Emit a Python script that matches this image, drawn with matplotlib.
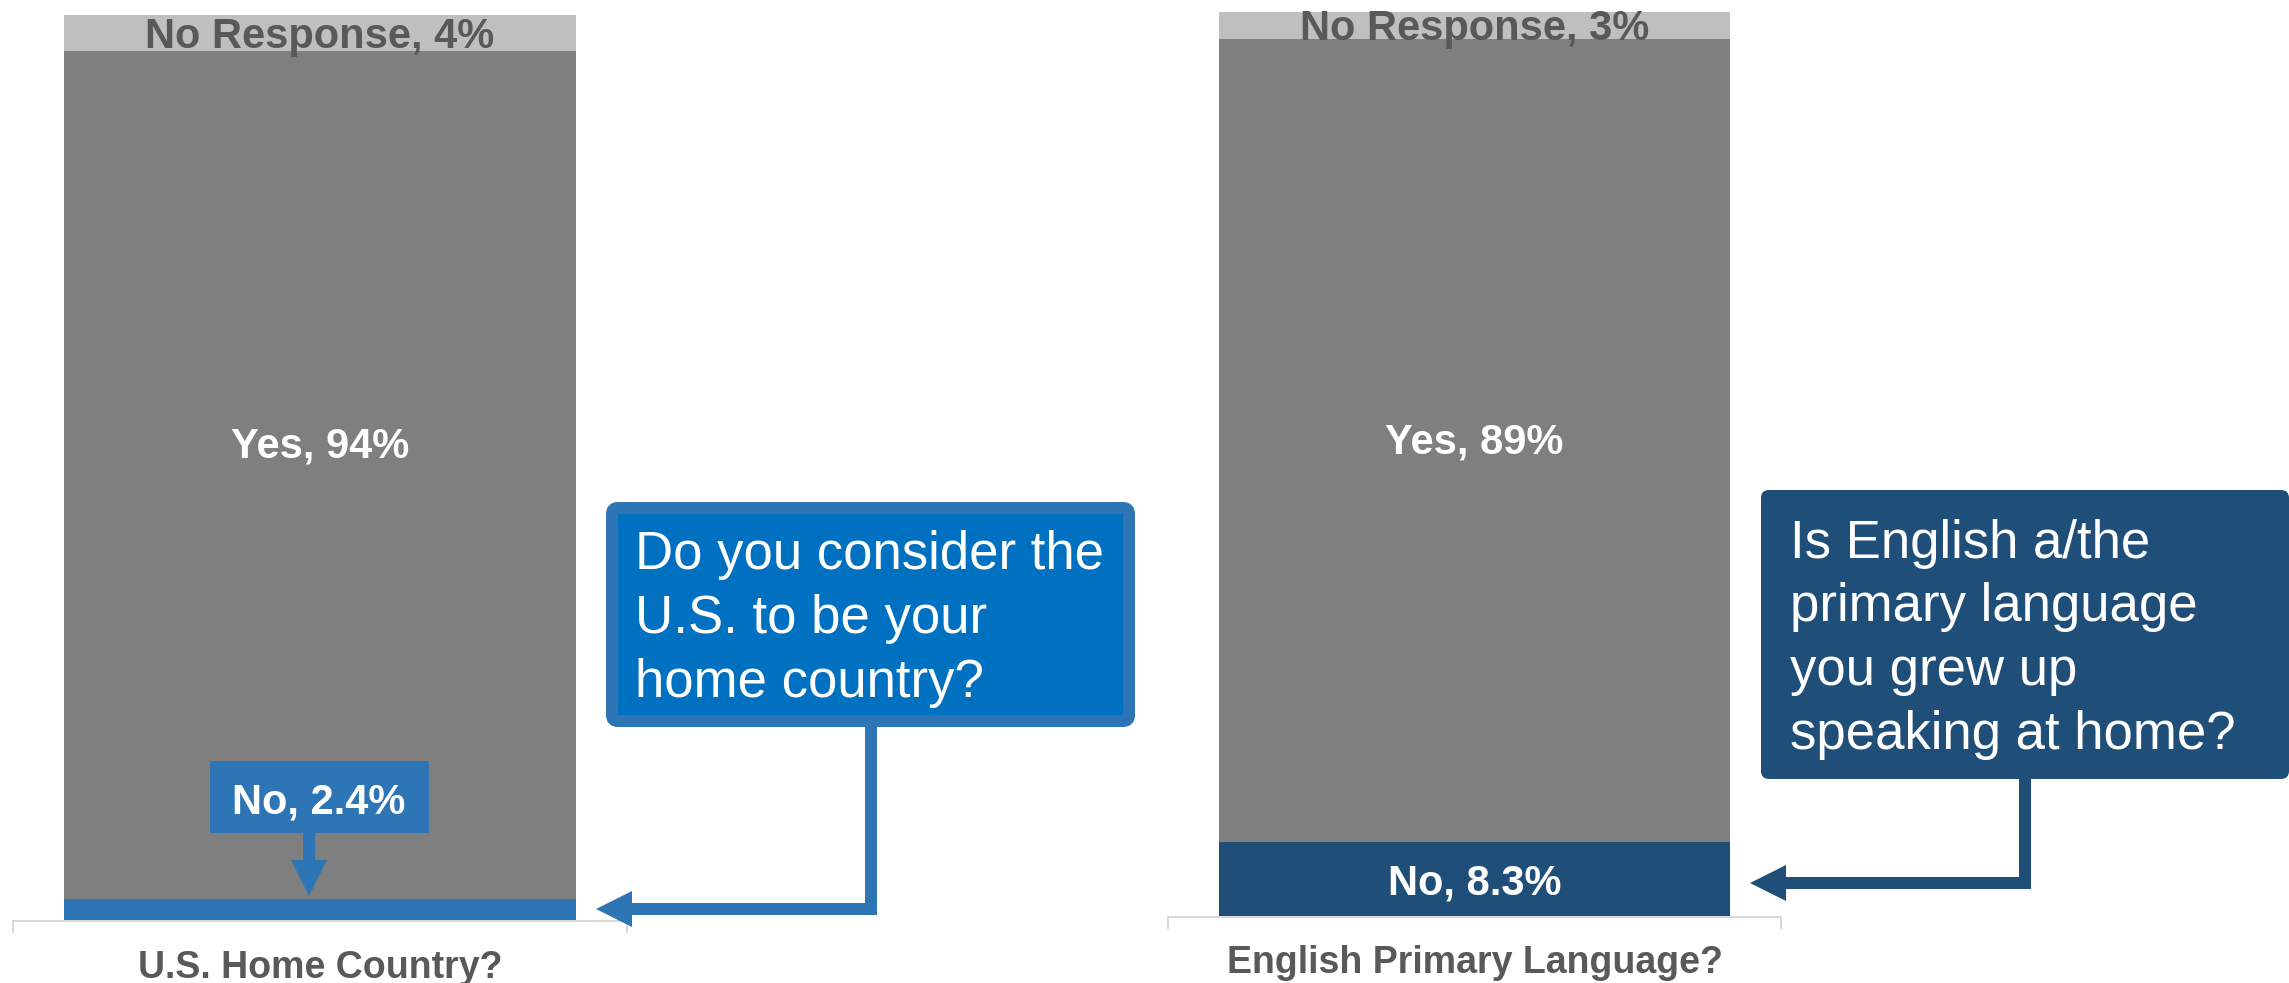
import matplotlib
matplotlib.use("Agg")
import matplotlib.pyplot as plt
from matplotlib.patches import FancyBboxPatch, Polygon, Rectangle

# ---- survey results (percent of respondents) ----
categories = ["U.S. Home Country?", "English Primary Language?"]
no_vals = [2.4, 8.3]
yes_vals = [94, 89]
no_response_vals = [4, 3]
questions = [
    ["Do you consider the", "U.S. to be your", "home country?"],
    ["Is English a/the", "primary language", "you grew up", "speaking at home?"],
]

# ---- styling ----
W, H, DPI = 2289, 983, 100
PT = 72 / DPI                      # points per pixel
GRAY = "#7F7F7F"
LIGHT = "#BFBFBF"
TEXT_GRAY = "#595959"
AXIS_GRAY = "#D9D9D9"
BLUE = "#2E75B6"
BRIGHT_BLUE = "#0070C0"
NAVY = "#1F4E79"
no_colors = [BLUE, NAVY]

plt.rcParams["font.family"] = ["Liberation Sans", "DejaVu Sans"]

fig = plt.figure(figsize=(W / DPI, H / DPI), dpi=DPI)


def rect(x0, y0, x1, y1):
    """Pixel box (top-left origin) -> figure-fraction rectangle."""
    return [x0 / W, 1 - y1 / H, (x1 - x0) / W, (y1 - y0) / H]


def fmt(v):
    return f"{v:g}%"


LABEL_SIZE = 30
CAP = 0.716 * LABEL_SIZE           # cap height in points


def bar_label(ax, y, text, color):
    # centre the capital letters on y
    ax.annotate(text, xy=(0, y), xytext=(0, -CAP / 2), textcoords="offset points",
                ha="center", va="baseline", fontsize=LABEL_SIZE,
                fontweight="bold", color=color, zorder=5)


axes_boxes = [rect(13, 0, 627, 921), rect(1168, 0, 1781, 917)]
y_tops = [102.06, 101.63]
cat_offsets = [57, 56]
YES_LABEL_Y = 53.0

for i, cat in enumerate(categories):
    ax = fig.add_axes(axes_boxes[i])
    no, yes, nr = no_vals[i], yes_vals[i], no_response_vals[i]
    ax.bar(0, no, width=1.0, color=no_colors[i], zorder=1)
    ax.bar(0, yes, width=1.0, bottom=no, color=GRAY, zorder=1)
    ax.bar(0, nr, width=1.0, bottom=no + yes, color=LIGHT, zorder=1)
    ax.set_xlim(-0.6, 0.6)
    ax.set_ylim(0, y_tops[i])
    for side in ("left", "right", "top"):
        ax.spines[side].set_visible(False)
    ax.spines["bottom"].set_color(AXIS_GRAY)
    ax.spines["bottom"].set_linewidth(2 * PT)
    ax.set_xticks([-0.6, 0.6])
    ax.set_xticklabels([])
    ax.tick_params(axis="x", length=12 * PT, width=2 * PT, color=AXIS_GRAY,
                   direction="out")
    ax.set_yticks([])
    ax.patch.set_alpha(0)

    bar_label(ax, YES_LABEL_Y, f"Yes, {fmt(yes)}", "white")
    bar_label(ax, no + yes + nr / 2, f"No Response, {fmt(nr)}", TEXT_GRAY)
    if i == 1:
        bar_label(ax, no / 2, f"No, {fmt(no)}", "white")

    ax.annotate(cat, xy=(0, 0), xycoords=("data", "axes fraction"),
                xytext=(0, -cat_offsets[i] * PT), textcoords="offset points",
                ha="center", va="baseline", fontsize=27, fontweight="bold",
                color=TEXT_GRAY, annotation_clip=False)

# ---- call-outs drawn in pixel space on a transparent overlay ----
ov = fig.add_axes([0, 0, 1, 1], zorder=10)
ov.set_xlim(0, W)
ov.set_ylim(H, 0)
ov.axis("off")
ov.patch.set_alpha(0)

# small label box pointing down at the thin "No" segment
ov.add_patch(Rectangle((210, 761), 219, 72, fc=BLUE, ec="none"))
ov.text(319, 813, f"No, {fmt(no_vals[0])}", ha="center", va="baseline",
        fontsize=LABEL_SIZE, fontweight="bold", color="white")
ov.add_patch(Rectangle((303, 832), 12, 29, fc=BLUE, ec="none"))
ov.add_patch(Polygon([(291, 860), (327, 860), (309, 896)], closed=True,
                     fc=BLUE, ec="none"))

# question 1 call-out
ov.add_patch(FancyBboxPatch((612, 508), 517, 213,
                            boxstyle="round,pad=0,rounding_size=6",
                            fc=BRIGHT_BLUE, ec=BLUE, lw=12 * PT))
for k, line in enumerate(questions[0]):
    ov.text(635, 569 + 64 * k, line, ha="left", va="baseline",
            fontsize=38, color="white")
ov.plot([871, 871, 632], [724, 909, 909], color=BLUE, lw=12 * PT,
        solid_joinstyle="miter", solid_capstyle="butt")
ov.add_patch(Polygon([(632, 891), (632, 927), (596, 909)], closed=True,
                     fc=BLUE, ec="none"))

# question 2 call-out
ov.add_patch(FancyBboxPatch((1761, 490), 528, 289,
                            boxstyle="round,pad=0,rounding_size=8",
                            fc=NAVY, ec="none"))
for k, line in enumerate(questions[1]):
    ov.text(1790, 558 + 63.5 * k, line, ha="left", va="baseline",
            fontsize=38, color="white")
ov.plot([2025, 2025, 1786], [776, 883, 883], color=NAVY, lw=12 * PT,
        solid_joinstyle="miter", solid_capstyle="butt")
ov.add_patch(Polygon([(1786, 865), (1786, 901), (1750, 883)], closed=True,
                     fc=NAVY, ec="none"))

fig.savefig("out.png", dpi=DPI)
